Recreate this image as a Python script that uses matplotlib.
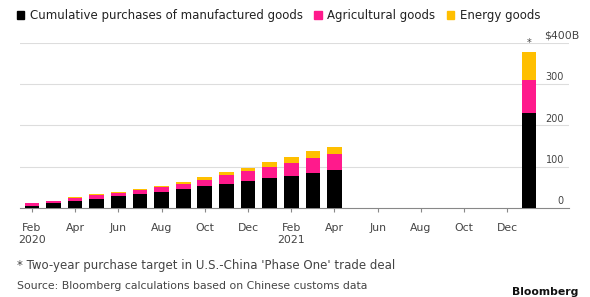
import numpy as np
import matplotlib.pyplot as plt

plt.rcParams['font.family'] = ['DejaVu Sans']

## data: cumulative purchases, $B (Feb 2020 .. Apr 2021) + two-year target
months = ['Feb\n2020', 'Apr', 'Jun', 'Aug', 'Oct', 'Dec', 'Feb\n2021', 'Apr', 'Jun', 'Aug', 'Oct', 'Dec']
manufactured = [6, 13, 18, 23, 28, 34, 38, 47, 54, 59, 65, 73, 77, 84, 91]
agricultural = [6, 3, 6, 9, 9, 10, 13, 12, 15, 20, 24, 26, 33, 38, 39]
energy = [1, 1, 2, 1, 1, 2, 3, 4, 7, 8, 9, 13, 14, 16, 18]
target = [230, 80, 68]   # manufactured, agricultural, energy
yticks = [0, 100, 200, 300]

black = '#000000'
pink = '#ff1a8c'
yellow = '#ffbf00'
grey = '#444444'

fig = plt.figure(figsize=(5.9, 2.97), dpi=100)
ax = fig.add_axes([20 / 590, (297 - 208) / 297, 549 / 590, 165 / 297])

x = np.arange(len(manufactured))
m = np.array(manufactured)
a = np.array(agricultural)
e = np.array(energy)
w = 0.68
ax.bar(x, m, w, color=black, zorder=3)
ax.bar(x, a, w, bottom=m, color=pink, zorder=3)
ax.bar(x, e, w, bottom=m + a, color=yellow, zorder=3)

# target bar sits in Jan 2022
tx = 23
ax.bar(tx, target[0], w, color=black, zorder=3)
ax.bar(tx, target[1], w, bottom=target[0], color=pink, zorder=3)
ax.bar(tx, target[2], w, bottom=target[0] + target[1], color=yellow, zorder=3)
ax.annotate('*', (tx, sum(target)), xytext=(0, 3), textcoords='offset points',
            ha='center', va='bottom', fontsize=7, color=grey)

ax.set_xlim(-0.55, 24.85)
ax.set_ylim(0, 400)

# grid + labels sitting above the lines, bloomberg style
for v in yticks + [400]:
    if v > 0:
        ax.axhline(v, color='#dddddd', lw=0.8, zorder=1)
for v in yticks:
    ax.annotate(str(v), (1, v), xycoords=('axes fraction', 'data'), xytext=(-5, 2),
                textcoords='offset pixels', ha='right', va='bottom', fontsize=7, color=grey)
ax.annotate('$400B', (1, 400), xycoords=('axes fraction', 'data'), xytext=(10, 2),
            textcoords='offset pixels', ha='right', va='bottom', fontsize=7.8, color=grey,
            annotation_clip=False)
ax.set_yticks([])

ax.set_xticks(np.arange(0, 23, 2))
ax.set_xticklabels(months, fontsize=7.8, color=grey, ha='center', linespacing=1.25)
ax.tick_params(axis='x', length=3, color='#888888', pad=8)

for s in ['top', 'right', 'left']:
    ax.spines[s].set_visible(False)
ax.spines['bottom'].set_color('#888888')
ax.spines['bottom'].set_linewidth(0.8)

# legend
ax.legend(handles=[plt.Rectangle((0, 0), 1, 1, color=c) for c in (black, pink, yellow)],
          labels=['Cumulative purchases of manufactured goods', 'Agricultural goods', 'Energy goods'],
          loc='lower left', ncol=3, frameon=False, fontsize=8.5, handlelength=0.62,
          handleheight=0.62, handletextpad=0.45, columnspacing=1.0, borderpad=0,
          borderaxespad=0, labelcolor='#222222')
leg = ax.get_legend()
leg.set_bbox_to_anchor((17 / 590, 1 - 22 / 297), transform=fig.transFigure)

fig.text(17 / 590, 1 - 265 / 297, "* Two-year purchase target in U.S.-China 'Phase One' trade deal",
         fontsize=8.45, color=grey, va='center')
fig.text(17 / 590, 1 - 286 / 297, 'Source: Bloomberg calculations based on Chinese customs data',
         fontsize=7.8, color=grey, va='center')
fig.text(578 / 590, 1 - 292 / 297, 'Bloomberg', fontsize=7.8, fontweight='bold', color='#111111',
         ha='right', va='center')

plt.savefig('out.png', dpi=100)
